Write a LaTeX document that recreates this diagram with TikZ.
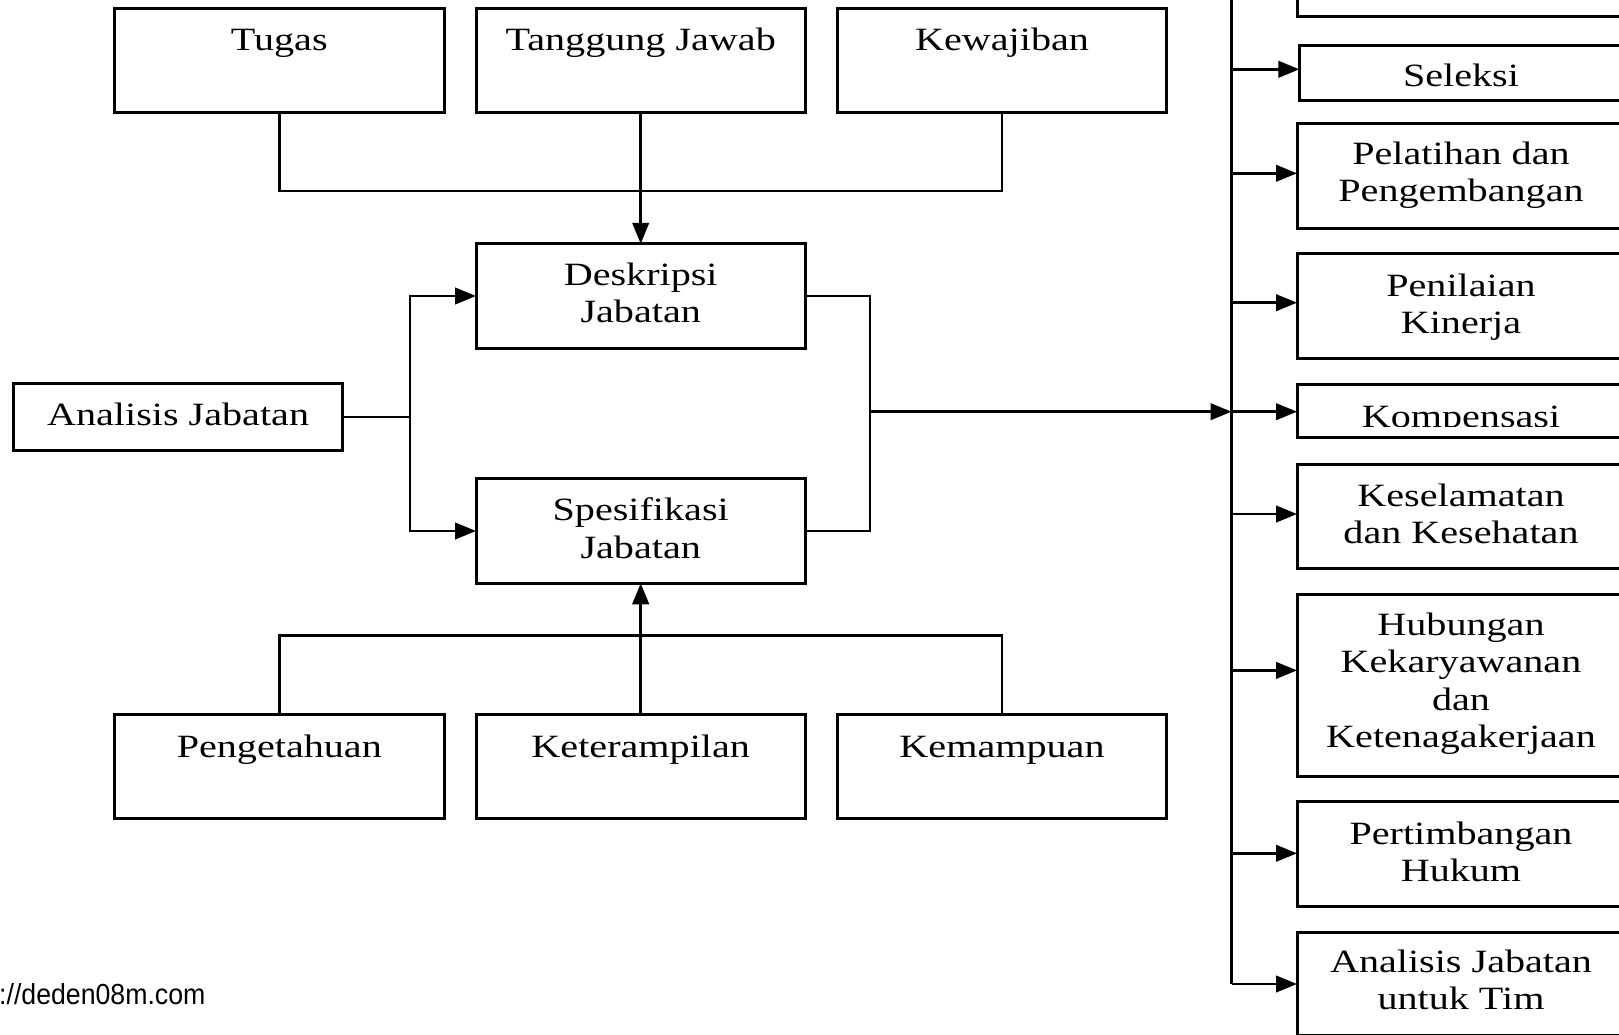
\documentclass[tikz,border=0pt]{standalone}
\usepackage{fontspec}
\setmainfont{Liberation Serif}[FakeStretch=1.235]
\newfontfamily\urlfont{Liberation Sans}[FakeStretch=0.92]
\usetikzlibrary{arrows.meta}
\begin{document}
\begin{tikzpicture}[x=1pt,y=-1pt,
  box/.style={draw, line width=3pt, inner sep=0pt, outer sep=0pt},
  lbox/.style={box, minimum width=329.4pt, minimum height=104.5pt},
  rbox/.style={box, minimum width=328pt},
  conn/.style={line width=2.6pt},
  arr/.style={conn, -{Triangle[length=21pt,width=16.5pt]}},
  lbl/.style={anchor=base, inner sep=0pt, font=\fontsize{32.5}{37.3}\selectfont}]
\useasboundingbox (0,0) rectangle (1619,1034);
\clip (0,0) rectangle (1619,1034);
\fill[white] (0,0) rectangle (1619,1034);

% left boxes
\node[lbox] (tugas) at (279.3,60.5) {};
\node[lbox] (tj)    at (640.7,60.5) {};
\node[lbox] (kew)   at (1002,60.5) {};
\node[lbox] (desk)  at (640.7,296) {};
\node[lbox] (spes)  at (640.7,531) {};
\node[box, minimum width=329.4pt, minimum height=67.2pt] (anal) at (178.1,416.8) {};
\node[lbox] (peng)  at (279.3,766.5) {};
\node[lbox] (ket)   at (640.7,766.5) {};
\node[lbox] (kem)   at (1002,766.5) {};

% left labels
\node[lbl] (tugasT) at (279.3,50.8) {Tugas};
\node[lbl] (tjT)    at (640.7,50.8) {Tanggung Jawab};
\node[lbl] (kewT)   at (1002,50.8) {Kewajiban};
\node[lbl] (deskT1) at (640.7,285) {Deskripsi};
\node[lbl] (deskT2) at (640.7,322.3) {Jabatan};
\node[lbl] (spesT1) at (640.7,520.8) {Spesifikasi};
\node[lbl] (spesT2) at (640.7,558) {Jabatan};
\node[lbl] (analT)  at (178.1,425.7) {Analisis Jabatan};
\node[lbl] (pengT)  at (279.3,757.3) {Pengetahuan};
\node[lbl] (ketT)   at (640.7,757.3) {Keterampilan};
\node[lbl] (kemT)   at (1002,757.3) {Kemampuan};

% right boxes
\node[rbox, minimum height=80pt] (top0) at (1461,-23.3) {};
\node[box, minimum width=325.7pt, minimum height=55pt] (sel) at (1462.2,72.5) {};
\node[rbox, minimum height=105.4pt] (pel)  at (1461,176) {};
\node[rbox, minimum height=104.5pt] (pen)  at (1461,306.2) {};
\node[rbox, minimum height=52.7pt]  (komp) at (1461,411.3) {};
\node[rbox, minimum height=104.3pt] (kes)  at (1461,516.2) {};
\node[rbox, minimum height=182.8pt] (hub)  at (1461,685.4) {};
\node[rbox, minimum height=105.1pt] (per)  at (1461,854.2) {};
\node[rbox, minimum height=103.4pt] (tim)  at (1461,984) {};

% right labels
\node[lbl] (selT)  at (1461,86) {Seleksi};
\node[lbl] (pelT1) at (1461,164.5) {Pelatihan dan};
\node[lbl] (pelT2) at (1461,201.8) {Pengembangan};
\node[lbl] (penT1) at (1461,296.6) {Penilaian};
\node[lbl] (penT2) at (1461,333.9) {Kinerja};
\begin{scope}
  \clip (1297,385) rectangle (1625,426);
  \node[lbl] (kompT) at (1461,427) {Kompensasi};
\end{scope}
\node[lbl] (kesT1) at (1461,506.3) {Keselamatan};
\node[lbl] (kesT2) at (1461,543.6) {dan Kesehatan};
\node[lbl] (hubT1) at (1461,635.7) {Hubungan};
\node[lbl] (hubT2) at (1461,672.9) {Kekaryawanan};
\node[lbl] (hubT3) at (1461,710.1) {dan};
\node[lbl] (hubT4) at (1461,747.3) {Ketenagakerjaan};
\node[lbl] (perT1) at (1461,844.1) {Pertimbangan};
\node[lbl] (perT2) at (1461,881.3) {Hukum};
\node[lbl] (timT1) at (1461,972.3) {Analisis Jabatan};
\node[lbl] (timT2) at (1461,1009.3) {untuk Tim};

% url
\node[anchor=base west, inner sep=0pt, font=\urlfont\fontsize{29}{33}\selectfont] (url) at (-1,1004.3) {://deden08m.com};

% junction coordinates
\coordinate (jt) at (640.7,191);
\coordinate (ja) at (410,416.8);
\coordinate (jb) at (640.7,635.3);
\coordinate (jm) at (870,411.7);
\coordinate (bustop) at (1231.5,-5);
\coordinate (busin) at (1231.5,411.7);
\coordinate (busend) at (1231.5,984);

% top group
\draw[conn] (tugas.south) |- (jt) -| (kew.south);
\draw[arr] (tj.south) -- (desk.north);
% analisis
\draw[conn] (anal.east) -- (ja);
\draw[arr] (ja) |- (desk.west);
\draw[arr] (ja) |- (spes.west);
% bottom group
\draw[conn] (peng.north) |- (jb) -| (kem.north);
\draw[arr] (ket.north) -- (spes.south);
% merge
\draw[conn] (desk.east) -| (jm) |- (spes.east);
\draw[arr] (jm) -- (busin);
% bus
\draw[conn] (bustop) -- (busend);
\draw[arr] (busend) -- (tim.west);
\draw[arr] (bustop |- 0,69.3) -- (sel.west |- 0,69.3);
\draw[arr] (bustop |- 0,173.3) -- (pel.west |- 0,173.3);
\draw[arr] (bustop |- 0,302.7) -- (pen.west |- 0,302.7);
\draw[arr] (busin) -- (komp.west |- busin);
\draw[arr] (bustop |- 0,514) -- (kes.west |- 0,514);
\draw[arr] (bustop |- 0,670.4) -- (hub.west |- 0,670.4);
\draw[arr] (bustop |- 0,853.3) -- (per.west |- 0,853.3);
\end{tikzpicture}
\end{document}
